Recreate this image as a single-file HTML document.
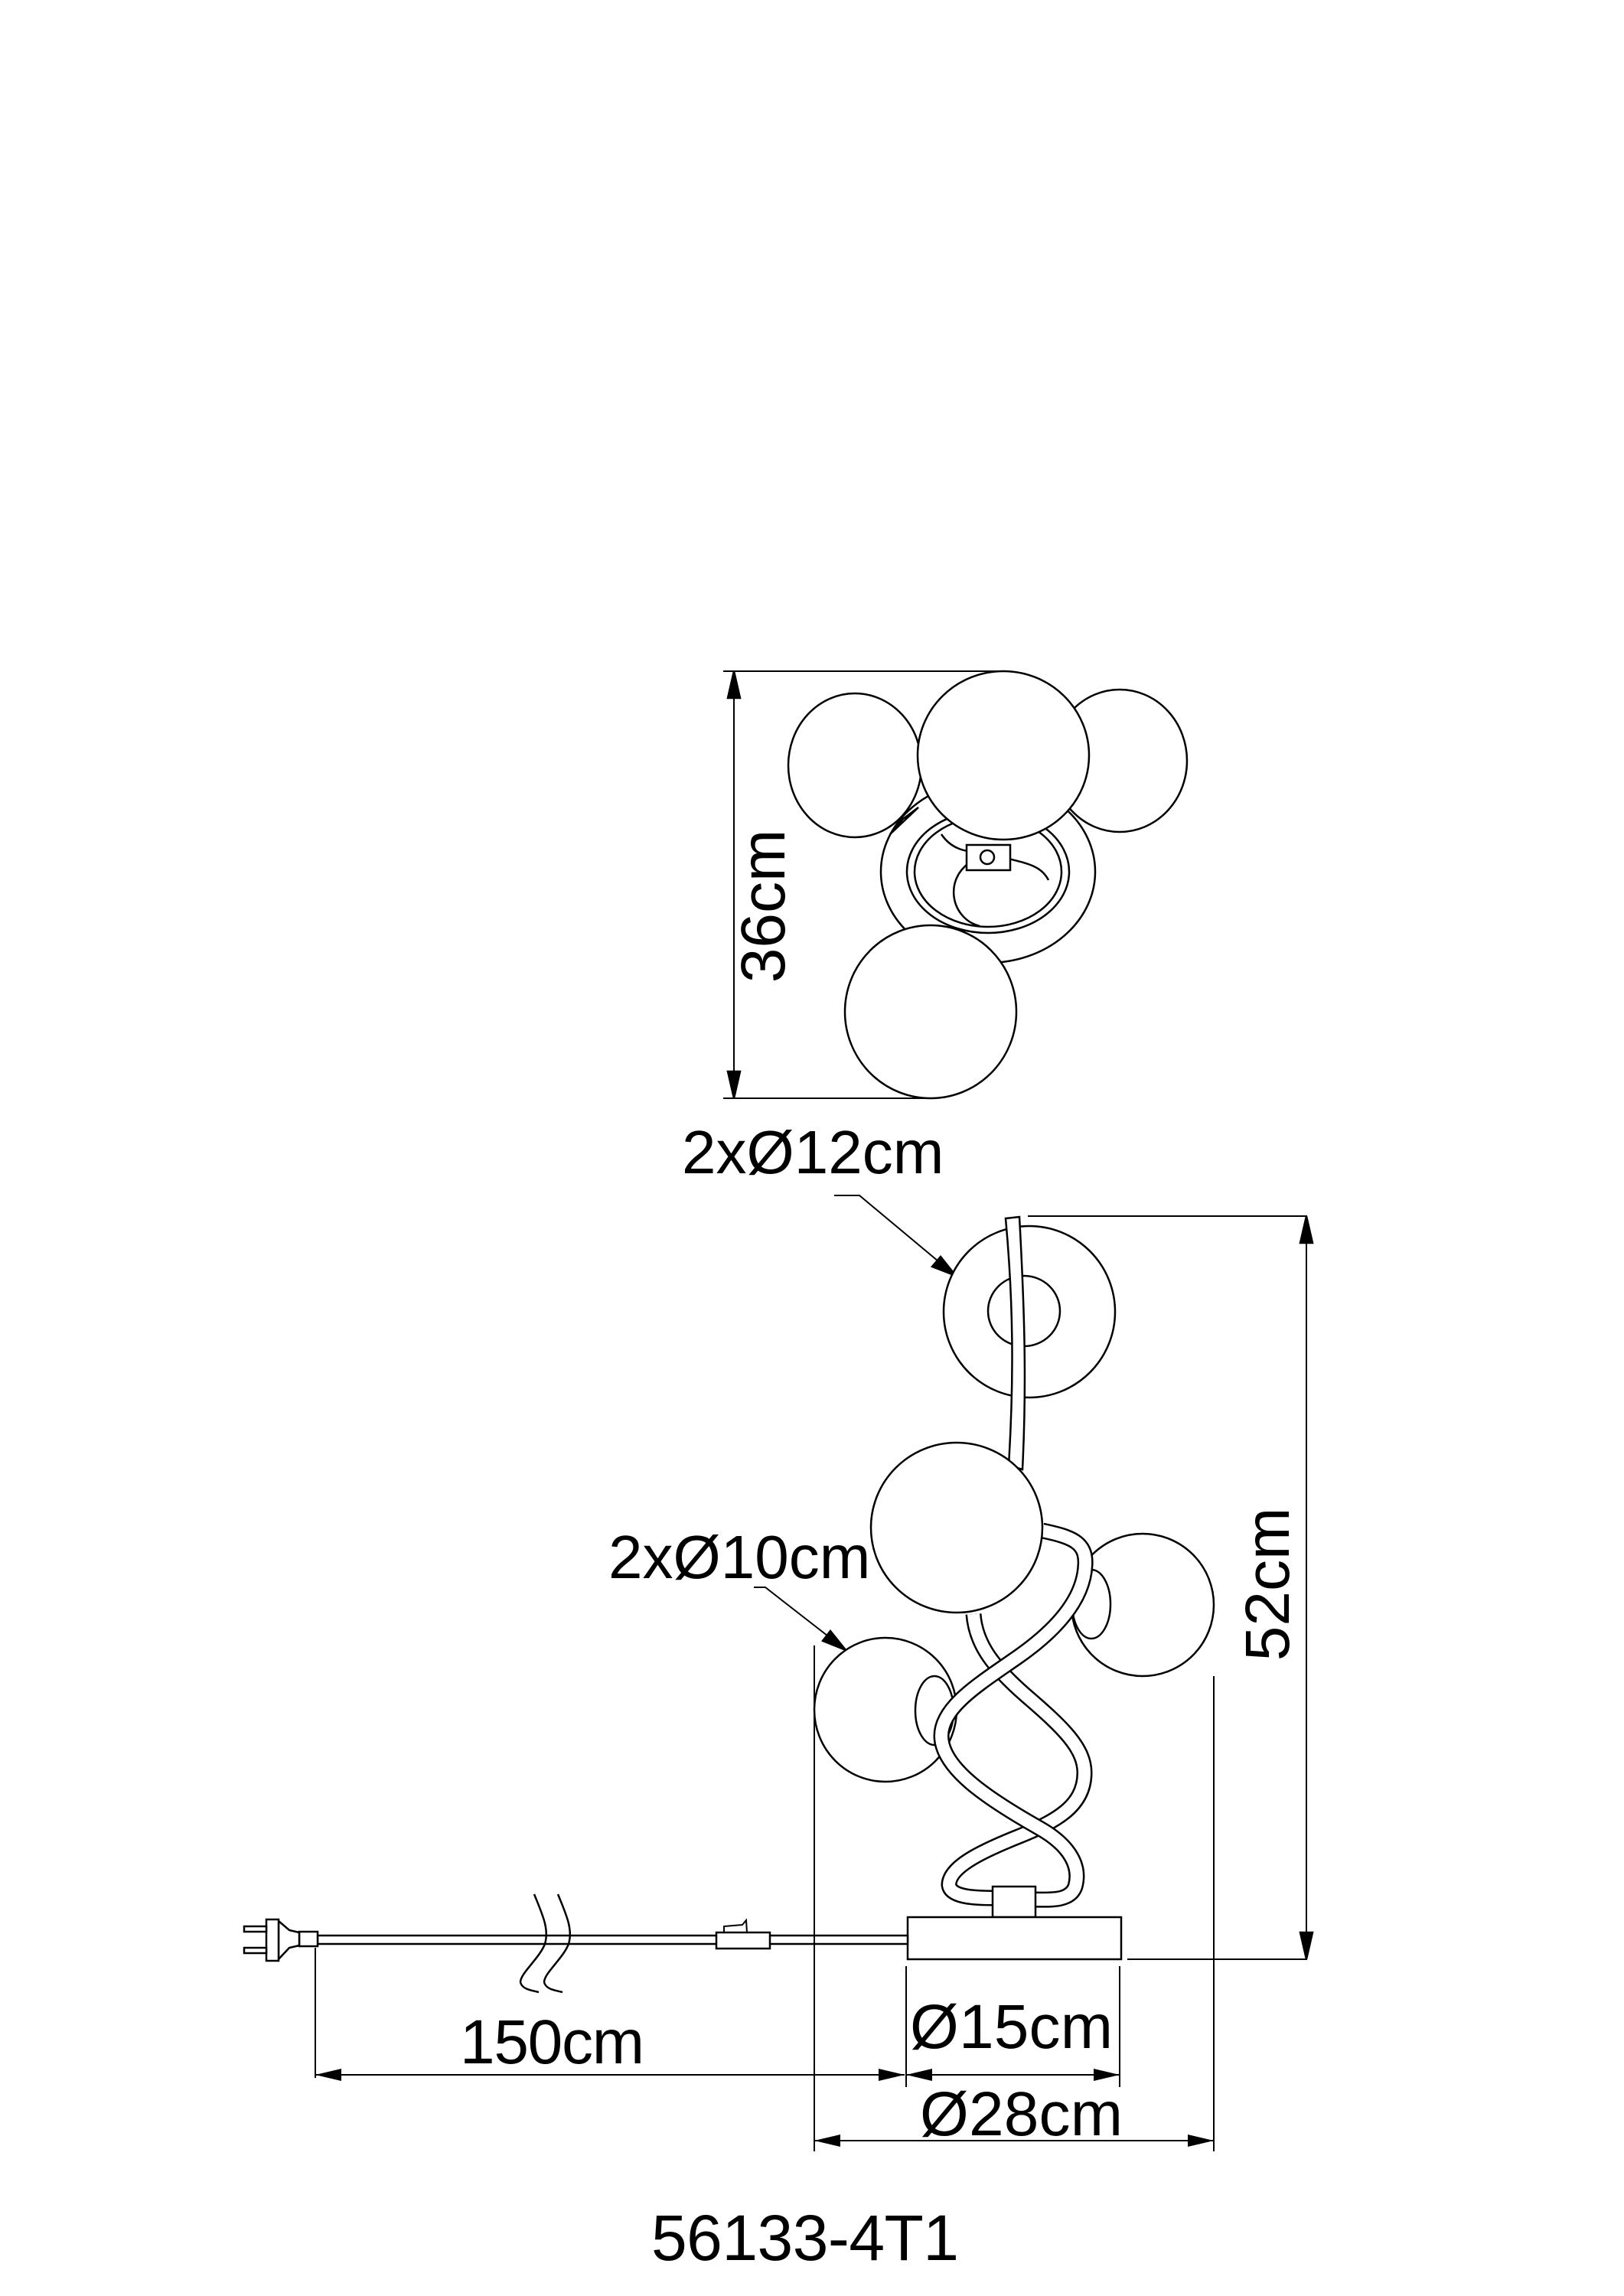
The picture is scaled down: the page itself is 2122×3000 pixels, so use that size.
<!DOCTYPE html>
<html><head><meta charset="utf-8"><style>
html,body{margin:0;padding:0;background:#fff}
svg{display:block}
text{font-family:"Liberation Sans",Arial,sans-serif;fill:#000;stroke:none}
</style></head><body>
<svg width="2122" height="3000" viewBox="0 0 2122 3000" xmlns="http://www.w3.org/2000/svg">
<rect width="2122" height="3000" fill="#fff"/>
<g fill="#fff" stroke="#000" stroke-width="2.5">
<!-- TOP VIEW -->
<line x1="945" y1="877" x2="1310" y2="877" stroke-width="2"/>
<line x1="945" y1="1435" x2="1215" y2="1435" stroke-width="2"/>
<line x1="959" y1="877" x2="959" y2="1435" stroke-width="2"/>
<polygon points="959,877 951,912 967,912" fill="#000"/>
<polygon points="959,1435 951,1400 967,1400" fill="#000"/>
<ellipse cx="1291" cy="1139" rx="140" ry="119"/>
<ellipse cx="1291" cy="1139" rx="106" ry="80"/>
<ellipse cx="1291" cy="1139" rx="96" ry="72"/>
<path d="M1230,1090 C1250,1120 1280,1110 1310,1120 C1340,1128 1360,1130 1370,1150" fill="none"/>
<path d="M1280,1120 C1230,1140 1240,1200 1280,1210" fill="none"/>
<rect x="1263" y="1104" width="57" height="33"/>
<circle cx="1290" cy="1120" r="9"/>
<path d="M1200,1055 L1163,1090 L1180,1070 Z" fill="none"/>
<ellipse cx="1117" cy="1000" rx="87" ry="94"/>
<ellipse cx="1463" cy="994" rx="88" ry="93"/>
<ellipse cx="1311" cy="987" rx="112" ry="110"/>
<ellipse cx="1216" cy="1322" rx="112" ry="113"/>

<!-- SIDE VIEW dims -->
<polyline points="1090,1562 1123,1562 1238,1658" fill="none" stroke-width="2"/>
<polygon points="1249,1667 1218,1655 1229,1642" fill="#000"/>
<polyline points="985,2074 1000,2074 1095,2148" fill="none" stroke-width="2"/>
<polygon points="1105,2156 1075,2144 1085,2131" fill="#000"/>
<line x1="1343" y1="1589" x2="1708" y2="1589" stroke-width="2"/>
<line x1="1473" y1="2560" x2="1708" y2="2560" stroke-width="2"/>
<line x1="1707" y1="1589" x2="1707" y2="2560" stroke-width="2"/>
<polygon points="1707,1589 1699,1624 1715,1624" fill="#000"/>
<polygon points="1707,2560 1699,2525 1715,2525" fill="#000"/>

<!-- SIDE VIEW lamp -->
<ellipse cx="1345" cy="1714" rx="112" ry="112"/>
<ellipse cx="1338" cy="1713" rx="47" ry="46"/>
<path d="M1314,1592 L1332,1590 C1338,1700 1342,1800 1336,1920 L1318,1915 C1325,1800 1324,1700 1314,1592 Z"/>
<ellipse cx="1493" cy="2097" rx="93" ry="93"/>
<ellipse cx="1426" cy="2096" rx="25" ry="45"/>
<ellipse cx="1157" cy="2234" rx="93" ry="94"/>
<ellipse cx="1221" cy="2235" rx="25" ry="45"/>
<path d="M1272,2109 C1275,2150 1300,2180 1340,2215 C1390,2258 1418,2285 1417,2318 C1416,2360 1380,2380 1330,2400 C1280,2420 1240,2440 1240,2463 C1242,2478 1270,2480 1297,2480" fill="none" stroke-width="21"/>
<path d="M1272,2109 C1275,2150 1300,2180 1340,2215 C1390,2258 1418,2285 1417,2318 C1416,2360 1380,2380 1330,2400 C1280,2420 1240,2440 1240,2463 C1242,2478 1270,2480 1297,2480" fill="none" stroke="#fff" stroke-width="16"/>
<path d="M1362,2000 C1400,2008 1420,2015 1418,2045 C1416,2090 1380,2130 1330,2165 C1280,2200 1230,2230 1230,2268 C1230,2310 1290,2350 1357,2388 C1400,2412 1412,2440 1405,2465 C1398,2485 1370,2482 1352,2482" fill="none" stroke-width="21"/>
<path d="M1362,2000 C1400,2008 1420,2015 1418,2045 C1416,2090 1380,2130 1330,2165 C1280,2200 1230,2230 1230,2268 C1230,2310 1290,2350 1357,2388 C1400,2412 1412,2440 1405,2465 C1398,2485 1370,2482 1352,2482" fill="none" stroke="#fff" stroke-width="16"/>
<ellipse cx="1250" cy="1996" rx="112" ry="111"/>
<rect x="1297" y="2465" width="56" height="40"/>
<rect x="1186" y="2505" width="279" height="55"/>

<!-- cord -->
<rect x="415" y="2529" width="771" height="11"/>
<rect x="936" y="2525" width="70" height="21"/>
<path d="M946,2525 L946,2517 L970,2515 L975,2509 L976,2525" fill="none" stroke-width="2"/>
<rect x="391" y="2524" width="24" height="19"/>
<path d="M364,2510 L378,2522 L391,2525 L391,2542 L378,2545 L364,2560 Z"/>
<rect x="348" y="2508" width="16" height="54"/>
<rect x="319" y="2517" width="29" height="7"/>
<rect x="319" y="2545" width="29" height="7"/>
<path d="M698,2475 C708,2500 718,2520 712,2540 C704,2560 680,2578 680,2590 C682,2598 690,2600 704,2603" fill="none" stroke-width="2.5"/>
<path d="M729,2475 C739,2500 749,2520 743,2540 C735,2560 711,2578 711,2590 C713,2598 721,2600 735,2603" fill="none" stroke-width="2.5"/>

<!-- dimension lines bottom -->
<g stroke-width="2">
<line x1="1064" y1="2150" x2="1064" y2="2811"/>
<line x1="1586" y1="2190" x2="1586" y2="2811"/>
<line x1="412" y1="2545" x2="412" y2="2715"/>
<line x1="1184" y1="2569" x2="1184" y2="2727"/>
<line x1="1463" y1="2569" x2="1463" y2="2727"/>
<line x1="412" y1="2711" x2="1182" y2="2711"/>
<line x1="1184" y1="2711" x2="1463" y2="2711"/>
<line x1="1064" y1="2797" x2="1586" y2="2797"/>
</g>
<g fill="#000" stroke="none">
<polygon points="412,2711 446,2703 446,2719"/>
<polygon points="1182,2711 1148,2703 1148,2719"/>
<polygon points="1184,2711 1218,2703 1218,2719"/>
<polygon points="1463,2711 1429,2703 1429,2719"/>
<polygon points="1064,2797 1098,2789 1098,2805"/>
<polygon points="1586,2797 1552,2789 1552,2805"/>
</g>
</g>
<text transform="translate(1025,1184) rotate(-90)" font-size="82" text-anchor="middle">36cm</text>
<text x="891" y="1533" font-size="80">2xØ12cm</text>
<text x="795" y="2062" font-size="80">2xØ10cm</text>
<text transform="translate(1684,2070) rotate(-90)" font-size="82" text-anchor="middle">52cm</text>
<text x="601" y="2696" font-size="82" textLength="241">150cm</text>
<text x="1189" y="2676" font-size="82" textLength="265">Ø15cm</text>
<text x="1202" y="2790" font-size="82" textLength="265">Ø28cm</text>
<text x="851" y="2953" font-size="84" textLength="402">56133-4T1</text>
</svg>
</body></html>
